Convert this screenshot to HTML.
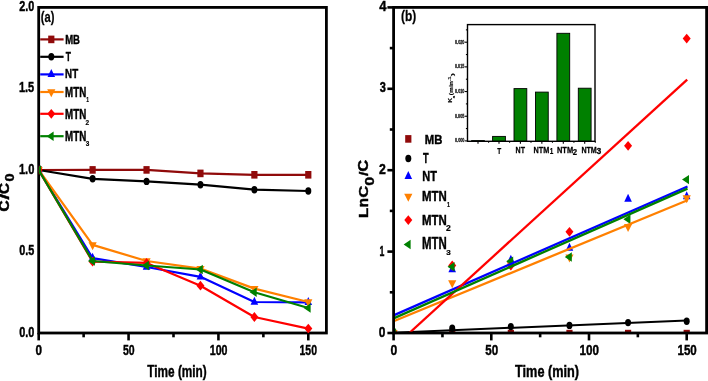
<!DOCTYPE html>
<html><head><meta charset="utf-8"><style>
html,body{margin:0;padding:0;background:#fff;width:708px;height:381px;overflow:hidden;}
svg{display:block;will-change:transform;}
text{font-family:"Liberation Sans", sans-serif;}
</style></head><body>
<svg width="708" height="381" viewBox="0 0 708 381">
<rect width="708" height="381" fill="#fff"/>
<rect x="38.70" y="7.40" width="287.70" height="325.60" fill="none" stroke="#000" stroke-width="2.8"/>
<defs><clipPath id="ca"><rect x="38.9" y="7.4" width="287.5" height="325.6"/></clipPath></defs><g clip-path="url(#ca)">
<polyline points="38.70,170.00 92.62,169.90 146.54,169.90 200.46,173.40 254.38,174.80 308.30,174.80" fill="none" stroke="#900a0a" stroke-width="2.2" stroke-linejoin="round"/>
<rect x="35.60" y="166.20" width="6.20" height="7.60" fill="#900a0a"/>
<rect x="89.52" y="166.10" width="6.20" height="7.60" fill="#900a0a"/>
<rect x="143.44" y="166.10" width="6.20" height="7.60" fill="#900a0a"/>
<rect x="197.36" y="169.60" width="6.20" height="7.60" fill="#900a0a"/>
<rect x="251.28" y="171.00" width="6.20" height="7.60" fill="#900a0a"/>
<rect x="305.20" y="171.00" width="6.20" height="7.60" fill="#900a0a"/>
<polyline points="38.70,170.00 92.62,178.80 146.54,181.40 200.46,184.70 254.38,189.70 308.30,191.00" fill="none" stroke="#000" stroke-width="2.2" stroke-linejoin="round"/>
<ellipse cx="38.70" cy="170.00" rx="3.00" ry="3.70" fill="#000"/>
<ellipse cx="92.62" cy="178.80" rx="3.00" ry="3.70" fill="#000"/>
<ellipse cx="146.54" cy="181.40" rx="3.00" ry="3.70" fill="#000"/>
<ellipse cx="200.46" cy="184.70" rx="3.00" ry="3.70" fill="#000"/>
<ellipse cx="254.38" cy="189.70" rx="3.00" ry="3.70" fill="#000"/>
<ellipse cx="308.30" cy="191.00" rx="3.00" ry="3.70" fill="#000"/>
<polyline points="38.70,170.00 92.62,258.10 146.54,267.00 200.46,276.80 254.38,302.00 308.30,302.40" fill="none" stroke="#0000ff" stroke-width="2.2" stroke-linejoin="round"/>
<polygon points="38.70,164.67 42.50,172.67 34.90,172.67" fill="#0000ff"/>
<polygon points="92.62,252.77 96.42,260.77 88.82,260.77" fill="#0000ff"/>
<polygon points="146.54,261.67 150.34,269.67 142.74,269.67" fill="#0000ff"/>
<polygon points="200.46,271.47 204.26,279.47 196.66,279.47" fill="#0000ff"/>
<polygon points="254.38,296.67 258.18,304.67 250.58,304.67" fill="#0000ff"/>
<polygon points="308.30,297.07 312.10,305.07 304.50,305.07" fill="#0000ff"/>
<polyline points="38.70,170.00 92.62,244.90 146.54,261.00 200.46,268.60 254.38,288.60 308.30,302.00" fill="none" stroke="#ff8000" stroke-width="2.2" stroke-linejoin="round"/>
<polygon points="34.60,167.33 42.80,167.33 38.70,175.33" fill="#ff8000"/>
<polygon points="88.52,242.23 96.72,242.23 92.62,250.23" fill="#ff8000"/>
<polygon points="142.44,258.33 150.64,258.33 146.54,266.33" fill="#ff8000"/>
<polygon points="196.36,265.93 204.56,265.93 200.46,273.93" fill="#ff8000"/>
<polygon points="250.28,285.93 258.48,285.93 254.38,293.93" fill="#ff8000"/>
<polygon points="304.20,299.33 312.40,299.33 308.30,307.33" fill="#ff8000"/>
<polyline points="38.70,170.00 92.62,261.70 146.54,262.90 200.46,285.70 254.38,317.00 308.30,328.60" fill="none" stroke="#ff0000" stroke-width="2.2" stroke-linejoin="round"/>
<polygon points="38.70,165.10 42.70,170.00 38.70,174.90 34.70,170.00" fill="#ff0000"/>
<polygon points="92.62,256.80 96.62,261.70 92.62,266.60 88.62,261.70" fill="#ff0000"/>
<polygon points="146.54,258.00 150.54,262.90 146.54,267.80 142.54,262.90" fill="#ff0000"/>
<polygon points="200.46,280.80 204.46,285.70 200.46,290.60 196.46,285.70" fill="#ff0000"/>
<polygon points="254.38,312.10 258.38,317.00 254.38,321.90 250.38,317.00" fill="#ff0000"/>
<polygon points="308.30,323.70 312.30,328.60 308.30,333.50 304.30,328.60" fill="#ff0000"/>
<polyline points="38.70,170.00 92.62,261.00 146.54,265.50 200.46,269.50 254.38,292.30 308.30,308.00" fill="none" stroke="#008000" stroke-width="2.2" stroke-linejoin="round"/>
<polygon points="34.03,170.00 41.03,165.30 41.03,174.70" fill="#008000"/>
<polygon points="87.95,261.00 94.95,256.30 94.95,265.70" fill="#008000"/>
<polygon points="141.87,265.50 148.87,260.80 148.87,270.20" fill="#008000"/>
<polygon points="195.79,269.50 202.79,264.80 202.79,274.20" fill="#008000"/>
<polygon points="249.71,292.30 256.71,287.60 256.71,297.00" fill="#008000"/>
<polygon points="303.63,308.00 310.63,303.30 310.63,312.70" fill="#008000"/>
</g>
<line x1="38.70" y1="333.00" x2="38.70" y2="340.40" stroke="#000" stroke-width="2.6" stroke-linecap="butt"/>
<line x1="83.63" y1="333.00" x2="83.63" y2="337.30" stroke="#000" stroke-width="2.6" stroke-linecap="butt"/>
<line x1="128.57" y1="333.00" x2="128.57" y2="340.40" stroke="#000" stroke-width="2.6" stroke-linecap="butt"/>
<line x1="173.50" y1="333.00" x2="173.50" y2="337.30" stroke="#000" stroke-width="2.6" stroke-linecap="butt"/>
<line x1="218.43" y1="333.00" x2="218.43" y2="340.40" stroke="#000" stroke-width="2.6" stroke-linecap="butt"/>
<line x1="263.37" y1="333.00" x2="263.37" y2="337.30" stroke="#000" stroke-width="2.6" stroke-linecap="butt"/>
<line x1="308.30" y1="333.00" x2="308.30" y2="340.40" stroke="#000" stroke-width="2.6" stroke-linecap="butt"/>
<text transform="translate(19.16,336.65) scale(0.7312,1.0000)" font-size="14.93" font-weight="bold" fill="#000" stroke="#000" stroke-width="0.45">0.0</text>
<text transform="translate(19.17,255.15) scale(0.7256,1.0000)" font-size="14.93" font-weight="bold" fill="#000" stroke="#000" stroke-width="0.45">0.5</text>
<text transform="translate(18.93,173.65) scale(0.7425,1.0000)" font-size="14.93" font-weight="bold" fill="#000" stroke="#000" stroke-width="0.45">1.0</text>
<text transform="translate(18.94,92.15) scale(0.7264,1.0000)" font-size="15.14" font-weight="bold" fill="#000" stroke="#000" stroke-width="0.45">1.5</text>
<text transform="translate(19.28,10.85) scale(0.7256,1.0000)" font-size="14.93" font-weight="bold" fill="#000" stroke="#000" stroke-width="0.45">2.0</text>
<text transform="translate(35.53,355.15) scale(0.7622,1.0000)" font-size="15.35" font-weight="bold" fill="#000" stroke="#000" stroke-width="0.45">0</text>
<text transform="translate(122.99,355.15) scale(0.6827,1.0000)" font-size="15.35" font-weight="bold" fill="#000" stroke="#000" stroke-width="0.45">50</text>
<text transform="translate(209.76,355.15) scale(0.6929,1.0000)" font-size="15.35" font-weight="bold" fill="#000" stroke="#000" stroke-width="0.45">100</text>
<text transform="translate(299.57,355.15) scale(0.6804,1.0000)" font-size="15.35" font-weight="bold" fill="#000" stroke="#000" stroke-width="0.45">150</text>
<text transform="translate(147.28,377.00) scale(0.6963,1.0000)" font-size="16.96" font-weight="bold" fill="#000" stroke="#000" stroke-width="0.45">Time (min)</text>
<text transform="translate(8.76,211.83) scale(0.9202,1.0564) rotate(-90)" font-size="15.00" font-weight="bold" fill="#000" stroke="#000" stroke-width="0.45">C</text>
<text transform="translate(8.77,199.81) scale(0.8468,1.4103) rotate(-90)" font-size="15.00" font-weight="bold" fill="#000" stroke="#000" stroke-width="0.45">/</text>
<text transform="translate(8.76,194.13) scale(0.9202,1.0462) rotate(-90)" font-size="15.00" font-weight="bold" fill="#000" stroke="#000" stroke-width="0.45">C</text>
<text transform="translate(14.18,181.48) scale(0.7981,0.9645) rotate(-90)" font-size="15.00" font-weight="bold" fill="#000" stroke="#000" stroke-width="0.45">0</text>
<text transform="translate(40.74,21.55) scale(0.7440,1.0000)" font-size="15.00" font-weight="bold" fill="#000" stroke="#000" stroke-width="0.25">(a)</text>
<line x1="40.20" y1="39.40" x2="63.60" y2="39.40" stroke="#900a0a" stroke-width="2.2" stroke-linecap="butt"/>
<rect x="48.20" y="35.60" width="6.20" height="7.60" fill="#900a0a"/>
<text transform="translate(65.13,44.40) scale(0.6984,1.0000)" font-size="13.62" font-weight="bold" fill="#000" stroke="#000" stroke-width="0.45">MB</text>
<line x1="40.20" y1="56.80" x2="63.60" y2="56.80" stroke="#000" stroke-width="2.2" stroke-linecap="butt"/>
<ellipse cx="51.30" cy="56.80" rx="3.00" ry="3.70" fill="#000"/>
<text transform="translate(65.72,61.00) scale(0.6221,1.0000)" font-size="13.62" font-weight="bold" fill="#000" stroke="#000" stroke-width="0.45">T</text>
<line x1="40.20" y1="74.40" x2="63.60" y2="74.40" stroke="#0000ff" stroke-width="2.2" stroke-linecap="butt"/>
<polygon points="51.30,69.07 55.10,77.07 47.50,77.07" fill="#0000ff"/>
<text transform="translate(65.12,78.30) scale(0.7164,1.0000)" font-size="13.62" font-weight="bold" fill="#000" stroke="#000" stroke-width="0.45">NT</text>
<line x1="40.20" y1="92.00" x2="63.60" y2="92.00" stroke="#ff8000" stroke-width="2.2" stroke-linecap="butt"/>
<polygon points="47.20,89.33 55.40,89.33 51.30,97.33" fill="#ff8000"/>
<text transform="translate(65.12,96.70) scale(0.6867,1.0000)" font-size="14.20" font-weight="bold" fill="#000" stroke="#000" stroke-width="0.45">MTN</text>
<text transform="translate(86.31,102.20) scale(0.6139,1.0000)" font-size="7.97" font-weight="bold" fill="#000" stroke="#000" stroke-width="0.2">1</text>
<line x1="40.20" y1="113.80" x2="63.60" y2="113.80" stroke="#ff0000" stroke-width="2.2" stroke-linecap="butt"/>
<polygon points="51.30,108.90 55.30,113.80 51.30,118.70 47.30,113.80" fill="#ff0000"/>
<text transform="translate(65.12,119.20) scale(0.7084,1.0000)" font-size="13.77" font-weight="bold" fill="#000" stroke="#000" stroke-width="0.45">MTN</text>
<text transform="translate(85.60,124.50) scale(0.9726,1.0000)" font-size="6.71" font-weight="bold" fill="#000" stroke="#000" stroke-width="0.2">2</text>
<line x1="40.20" y1="136.20" x2="63.60" y2="136.20" stroke="#008000" stroke-width="2.2" stroke-linecap="butt"/>
<polygon points="46.63,136.20 53.63,131.50 53.63,140.90" fill="#008000"/>
<text transform="translate(65.12,141.10) scale(0.7084,1.0000)" font-size="13.77" font-weight="bold" fill="#000" stroke="#000" stroke-width="0.45">MTN</text>
<text transform="translate(85.67,146.33) scale(0.8574,1.0000)" font-size="7.46" font-weight="bold" fill="#000" stroke="#000" stroke-width="0.2">3</text>
<defs><clipPath id="cb"><rect x="393.6" y="7.4" width="313" height="325.6"/></clipPath></defs>
<g clip-path="url(#cb)">
<rect x="390.50" y="329.80" width="6.20" height="7.60" fill="#900a0a"/>
<rect x="449.12" y="329.80" width="6.20" height="7.60" fill="#900a0a"/>
<rect x="507.74" y="329.80" width="6.20" height="7.60" fill="#900a0a"/>
<rect x="566.36" y="329.80" width="6.20" height="7.60" fill="#900a0a"/>
<rect x="624.98" y="329.80" width="6.20" height="7.60" fill="#900a0a"/>
<rect x="683.60" y="329.80" width="6.20" height="7.60" fill="#900a0a"/>
<ellipse cx="393.60" cy="333.00" rx="3.00" ry="3.70" fill="#000"/>
<ellipse cx="452.22" cy="328.20" rx="3.00" ry="3.70" fill="#000"/>
<ellipse cx="510.84" cy="326.60" rx="3.00" ry="3.70" fill="#000"/>
<ellipse cx="569.46" cy="325.40" rx="3.00" ry="3.70" fill="#000"/>
<ellipse cx="628.08" cy="322.60" rx="3.00" ry="3.70" fill="#000"/>
<ellipse cx="686.70" cy="321.20" rx="3.00" ry="3.70" fill="#000"/>
<polygon points="393.60,327.67 397.40,335.67 389.80,335.67" fill="#0000ff"/>
<polygon points="452.22,264.37 456.02,272.37 448.42,272.37" fill="#0000ff"/>
<polygon points="510.84,254.67 514.64,262.67 507.04,262.67" fill="#0000ff"/>
<polygon points="569.46,242.77 573.26,250.77 565.66,250.77" fill="#0000ff"/>
<polygon points="628.08,193.87 631.88,201.87 624.28,201.87" fill="#0000ff"/>
<polygon points="686.70,191.37 690.50,199.37 682.90,199.37" fill="#0000ff"/>
<polygon points="389.50,330.33 397.70,330.33 393.60,338.33" fill="#ff8000"/>
<polygon points="448.12,280.33 456.32,280.33 452.22,288.33" fill="#ff8000"/>
<polygon points="506.74,262.33 514.94,262.33 510.84,270.33" fill="#ff8000"/>
<polygon points="565.36,254.53 573.56,254.53 569.46,262.53" fill="#ff8000"/>
<polygon points="623.98,223.93 632.18,223.93 628.08,231.93" fill="#ff8000"/>
<polygon points="682.60,195.33 690.80,195.33 686.70,203.33" fill="#ff8000"/>
<polygon points="393.60,328.10 397.60,333.00 393.60,337.90 389.60,333.00" fill="#ff0000"/>
<polygon points="452.22,260.60 456.22,265.50 452.22,270.40 448.22,265.50" fill="#ff0000"/>
<polygon points="510.84,260.60 514.84,265.50 510.84,270.40 506.84,265.50" fill="#ff0000"/>
<polygon points="569.46,226.90 573.46,231.80 569.46,236.70 565.46,231.80" fill="#ff0000"/>
<polygon points="628.08,140.90 632.08,145.80 628.08,150.70 624.08,145.80" fill="#ff0000"/>
<polygon points="686.70,33.70 690.70,38.60 686.70,43.50 682.70,38.60" fill="#ff0000"/>
<polygon points="388.93,333.00 395.93,328.30 395.93,337.70" fill="#008000"/>
<polygon points="447.55,266.70 454.55,262.00 454.55,271.40" fill="#008000"/>
<polygon points="506.17,261.30 513.17,256.60 513.17,266.00" fill="#008000"/>
<polygon points="564.79,257.00 571.79,252.30 571.79,261.70" fill="#008000"/>
<polygon points="623.41,219.30 630.41,214.60 630.41,224.00" fill="#008000"/>
<polygon points="682.03,179.60 689.03,174.90 689.03,184.30" fill="#008000"/>
<line x1="393.60" y1="332.70" x2="686.70" y2="320.40" stroke="#000" stroke-width="2.0" stroke-linecap="butt"/>
<line x1="393.60" y1="315.40" x2="687.50" y2="186.50" stroke="#0000ff" stroke-width="2.3" stroke-linecap="butt"/>
<line x1="393.60" y1="321.30" x2="687.50" y2="200.20" stroke="#ff8000" stroke-width="2.3" stroke-linecap="butt"/>
<line x1="409.30" y1="333.00" x2="687.20" y2="79.60" stroke="#ff0000" stroke-width="2.3" stroke-linecap="butt"/>
<line x1="393.60" y1="318.40" x2="687.50" y2="188.60" stroke="#008000" stroke-width="2.3" stroke-linecap="butt"/>
</g>
<rect x="393.60" y="7.40" width="313.00" height="325.60" fill="none" stroke="#000" stroke-width="2.8"/>
<line x1="393.60" y1="333.00" x2="387.40" y2="333.00" stroke="#000" stroke-width="2.6" stroke-linecap="butt"/>
<line x1="393.60" y1="292.30" x2="389.80" y2="292.30" stroke="#000" stroke-width="2.6" stroke-linecap="butt"/>
<line x1="393.60" y1="251.60" x2="387.40" y2="251.60" stroke="#000" stroke-width="2.6" stroke-linecap="butt"/>
<line x1="393.60" y1="210.90" x2="389.80" y2="210.90" stroke="#000" stroke-width="2.6" stroke-linecap="butt"/>
<line x1="393.60" y1="170.20" x2="387.40" y2="170.20" stroke="#000" stroke-width="2.6" stroke-linecap="butt"/>
<line x1="393.60" y1="129.50" x2="389.80" y2="129.50" stroke="#000" stroke-width="2.6" stroke-linecap="butt"/>
<line x1="393.60" y1="88.80" x2="387.40" y2="88.80" stroke="#000" stroke-width="2.6" stroke-linecap="butt"/>
<line x1="393.60" y1="48.10" x2="389.80" y2="48.10" stroke="#000" stroke-width="2.6" stroke-linecap="butt"/>
<line x1="393.60" y1="7.40" x2="387.40" y2="7.40" stroke="#000" stroke-width="2.6" stroke-linecap="butt"/>
<line x1="393.60" y1="333.00" x2="393.60" y2="340.40" stroke="#000" stroke-width="2.6" stroke-linecap="butt"/>
<line x1="442.45" y1="333.00" x2="442.45" y2="337.30" stroke="#000" stroke-width="2.6" stroke-linecap="butt"/>
<line x1="491.30" y1="333.00" x2="491.30" y2="340.40" stroke="#000" stroke-width="2.6" stroke-linecap="butt"/>
<line x1="540.15" y1="333.00" x2="540.15" y2="337.30" stroke="#000" stroke-width="2.6" stroke-linecap="butt"/>
<line x1="589.00" y1="333.00" x2="589.00" y2="340.40" stroke="#000" stroke-width="2.6" stroke-linecap="butt"/>
<line x1="637.85" y1="333.00" x2="637.85" y2="337.30" stroke="#000" stroke-width="2.6" stroke-linecap="butt"/>
<line x1="686.70" y1="333.00" x2="686.70" y2="340.40" stroke="#000" stroke-width="2.6" stroke-linecap="butt"/>
<text transform="translate(378.82,336.85) scale(0.7981,1.0000)" font-size="14.93" font-weight="bold" fill="#000" stroke="#000" stroke-width="0.45">0</text>
<text transform="translate(379.38,255.50) scale(0.5678,1.0000)" font-size="15.36" font-weight="bold" fill="#000" stroke="#000" stroke-width="0.45">1</text>
<text transform="translate(379.03,173.70) scale(0.8086,1.0000)" font-size="15.14" font-weight="bold" fill="#000" stroke="#000" stroke-width="0.45">2</text>
<text transform="translate(379.68,92.45) scale(0.7368,1.0000)" font-size="14.93" font-weight="bold" fill="#000" stroke="#000" stroke-width="0.45">3</text>
<text transform="translate(379.14,11.00) scale(0.8475,1.0000)" font-size="15.36" font-weight="bold" fill="#000" stroke="#000" stroke-width="0.45">4</text>
<text transform="translate(390.51,355.15) scale(0.7900,1.0000)" font-size="15.35" font-weight="bold" fill="#000" stroke="#000" stroke-width="0.45">0</text>
<text transform="translate(485.35,355.15) scale(0.7579,1.0000)" font-size="15.35" font-weight="bold" fill="#000" stroke="#000" stroke-width="0.45">50</text>
<text transform="translate(579.60,355.15) scale(0.7592,1.0000)" font-size="15.35" font-weight="bold" fill="#000" stroke="#000" stroke-width="0.45">100</text>
<text transform="translate(677.51,355.15) scale(0.7509,1.0000)" font-size="15.35" font-weight="bold" fill="#000" stroke="#000" stroke-width="0.45">150</text>
<text transform="translate(515.07,376.80) scale(0.7693,1.0000)" font-size="16.52" font-weight="bold" fill="#000" stroke="#000" stroke-width="0.45">Time (min)</text>
<text transform="translate(367.80,217.97) scale(0.8986,1.1111) rotate(-90)" font-size="15.00" font-weight="bold" fill="#000" stroke="#000" stroke-width="0.45">L</text>
<text transform="translate(367.80,207.15) scale(0.9877,1.0000) rotate(-90)" font-size="15.00" font-weight="bold" fill="#000" stroke="#000" stroke-width="0.45">n</text>
<text transform="translate(367.67,197.86) scale(0.8920,1.1077) rotate(-90)" font-size="15.00" font-weight="bold" fill="#000" stroke="#000" stroke-width="0.45">C</text>
<text transform="translate(373.67,185.65) scale(0.8545,1.0780) rotate(-90)" font-size="15.00" font-weight="bold" fill="#000" stroke="#000" stroke-width="0.45">0</text>
<text transform="translate(367.67,175.96) scale(0.8829,1.0769) rotate(-90)" font-size="15.00" font-weight="bold" fill="#000" stroke="#000" stroke-width="0.45">/</text>
<text transform="translate(367.96,171.86) scale(0.9202,1.0974) rotate(-90)" font-size="15.00" font-weight="bold" fill="#000" stroke="#000" stroke-width="0.45">C</text>
<text transform="translate(400.90,20.56) scale(0.8259,1.0000)" font-size="14.47" font-weight="bold" fill="#000" stroke="#000" stroke-width="0.25">(b)</text>
<rect x="405.20" y="135.10" width="6.20" height="7.60" fill="#900a0a"/>
<text transform="translate(424.71,143.70) scale(0.8309,1.0000)" font-size="13.62" font-weight="bold" fill="#000" stroke="#000" stroke-width="0.45">MB</text>
<ellipse cx="408.30" cy="158.50" rx="3.00" ry="3.70" fill="#000"/>
<text transform="translate(422.91,162.50) scale(0.6253,1.0000)" font-size="14.64" font-weight="bold" fill="#000" stroke="#000" stroke-width="0.45">T</text>
<polygon points="408.30,171.07 412.10,179.07 404.50,179.07" fill="#0000ff"/>
<text transform="translate(422.23,181.20) scale(0.7515,1.0000)" font-size="14.64" font-weight="bold" fill="#000" stroke="#000" stroke-width="0.45">NT</text>
<polygon points="404.20,193.63 412.40,193.63 408.30,201.63" fill="#ff8000"/>
<text transform="translate(421.90,201.10) scale(0.7582,1.0000)" font-size="15.07" font-weight="bold" fill="#000" stroke="#000" stroke-width="0.45">MTN</text>
<text transform="translate(446.88,206.80) scale(0.7646,1.0000)" font-size="6.96" font-weight="bold" fill="#000" stroke="#000" stroke-width="0.2">1</text>
<polygon points="408.30,215.20 412.30,220.10 408.30,225.00 404.30,220.10" fill="#ff0000"/>
<text transform="translate(421.90,224.70) scale(0.7582,1.0000)" font-size="15.07" font-weight="bold" fill="#000" stroke="#000" stroke-width="0.45">MTN</text>
<text transform="translate(446.04,231.30) scale(1.0526,1.0000)" font-size="8.14" font-weight="bold" fill="#000" stroke="#000" stroke-width="0.2">2</text>
<polygon points="403.63,244.50 410.63,239.80 410.63,249.20" fill="#008000"/>
<text transform="translate(421.90,249.20) scale(0.6979,1.0000)" font-size="16.38" font-weight="bold" fill="#000" stroke="#000" stroke-width="0.45">MTN</text>
<text transform="translate(446.34,254.83) scale(1.2085,1.0000)" font-size="6.62" font-weight="bold" fill="#000" stroke="#000" stroke-width="0.2">3</text>
<rect x="467.5" y="24.6" width="127.50" height="116.70" fill="#fff" stroke="none"/>
<rect x="471.60" y="140.60" width="12.8" height="0.70" fill="#008000" stroke="#000" stroke-width="0.9"/>
<rect x="492.60" y="136.40" width="12.8" height="4.90" fill="#008000" stroke="#000" stroke-width="0.9"/>
<rect x="514.00" y="88.60" width="12.8" height="52.70" fill="#008000" stroke="#000" stroke-width="0.9"/>
<rect x="535.45" y="92.10" width="12.8" height="49.20" fill="#008000" stroke="#000" stroke-width="0.9"/>
<rect x="556.90" y="33.30" width="12.8" height="108.00" fill="#008000" stroke="#000" stroke-width="0.9"/>
<rect x="578.30" y="88.20" width="12.8" height="53.10" fill="#008000" stroke="#000" stroke-width="0.9"/>
<rect x="467.5" y="24.6" width="127.50" height="116.70" fill="none" stroke="#000" stroke-width="1.4"/>
<line x1="467.50" y1="140.90" x2="464.70" y2="140.90" stroke="#000" stroke-width="1.1" stroke-linecap="butt"/>
<line x1="467.50" y1="128.56" x2="465.90" y2="128.56" stroke="#000" stroke-width="1.1" stroke-linecap="butt"/>
<line x1="467.50" y1="116.23" x2="464.70" y2="116.23" stroke="#000" stroke-width="1.1" stroke-linecap="butt"/>
<line x1="467.50" y1="103.89" x2="465.90" y2="103.89" stroke="#000" stroke-width="1.1" stroke-linecap="butt"/>
<line x1="467.50" y1="91.55" x2="464.70" y2="91.55" stroke="#000" stroke-width="1.1" stroke-linecap="butt"/>
<line x1="467.50" y1="79.21" x2="465.90" y2="79.21" stroke="#000" stroke-width="1.1" stroke-linecap="butt"/>
<line x1="467.50" y1="66.88" x2="464.70" y2="66.88" stroke="#000" stroke-width="1.1" stroke-linecap="butt"/>
<line x1="467.50" y1="54.54" x2="465.90" y2="54.54" stroke="#000" stroke-width="1.1" stroke-linecap="butt"/>
<line x1="467.50" y1="42.20" x2="464.70" y2="42.20" stroke="#000" stroke-width="1.1" stroke-linecap="butt"/>
<line x1="467.50" y1="29.86" x2="465.90" y2="29.86" stroke="#000" stroke-width="1.1" stroke-linecap="butt"/>
<line x1="478.00" y1="141.30" x2="478.00" y2="143.70" stroke="#000" stroke-width="1.1" stroke-linecap="butt"/>
<line x1="488.60" y1="141.30" x2="488.60" y2="142.70" stroke="#000" stroke-width="1.1" stroke-linecap="butt"/>
<line x1="499.00" y1="141.30" x2="499.00" y2="143.70" stroke="#000" stroke-width="1.1" stroke-linecap="butt"/>
<line x1="509.60" y1="141.30" x2="509.60" y2="142.70" stroke="#000" stroke-width="1.1" stroke-linecap="butt"/>
<line x1="520.40" y1="141.30" x2="520.40" y2="143.70" stroke="#000" stroke-width="1.1" stroke-linecap="butt"/>
<line x1="531.00" y1="141.30" x2="531.00" y2="142.70" stroke="#000" stroke-width="1.1" stroke-linecap="butt"/>
<line x1="541.85" y1="141.30" x2="541.85" y2="143.70" stroke="#000" stroke-width="1.1" stroke-linecap="butt"/>
<line x1="552.45" y1="141.30" x2="552.45" y2="142.70" stroke="#000" stroke-width="1.1" stroke-linecap="butt"/>
<line x1="563.30" y1="141.30" x2="563.30" y2="143.70" stroke="#000" stroke-width="1.1" stroke-linecap="butt"/>
<line x1="573.90" y1="141.30" x2="573.90" y2="142.70" stroke="#000" stroke-width="1.1" stroke-linecap="butt"/>
<line x1="584.70" y1="141.30" x2="584.70" y2="143.70" stroke="#000" stroke-width="1.1" stroke-linecap="butt"/>
<line x1="595.30" y1="141.30" x2="595.30" y2="142.70" stroke="#000" stroke-width="1.1" stroke-linecap="butt"/>
<text transform="translate(455.05,142.35) scale(0.8252,1.0000)" font-size="4.51" font-weight="bold" fill="#111" stroke="#111" stroke-width="0.25">0.000</text>
<text transform="translate(455.05,117.68) scale(0.8184,1.0000)" font-size="4.51" font-weight="bold" fill="#111" stroke="#111" stroke-width="0.25">0.005</text>
<text transform="translate(455.05,93.00) scale(0.8252,1.0000)" font-size="4.51" font-weight="bold" fill="#111" stroke="#111" stroke-width="0.25">0.010</text>
<text transform="translate(455.05,68.33) scale(0.8184,1.0000)" font-size="4.51" font-weight="bold" fill="#111" stroke="#111" stroke-width="0.25">0.015</text>
<text transform="translate(455.05,43.65) scale(0.8252,1.0000)" font-size="4.51" font-weight="bold" fill="#111" stroke="#111" stroke-width="0.25">0.020</text>
<text transform="translate(497.14,154.20) scale(0.7054,1.0000)" font-size="9.13" font-weight="bold" fill="#000" stroke="#000" stroke-width="0.25">T</text>
<text transform="translate(515.61,152.50) scale(0.7710,1.0000)" font-size="9.13" font-weight="bold" fill="#000" stroke="#000" stroke-width="0.25">NT</text>
<text transform="translate(533.59,152.50) scale(0.7985,1.0000)" font-size="9.13" font-weight="bold" fill="#000" stroke="#000" stroke-width="0.25">NTM</text>
<text transform="translate(549.72,154.20) scale(0.6477,1.0000)" font-size="9.86" font-weight="bold" fill="#000" stroke="#000" stroke-width="0.25">1</text>
<text transform="translate(556.98,152.50) scale(0.8699,1.0000)" font-size="8.55" font-weight="bold" fill="#000" stroke="#000" stroke-width="0.25">NTM</text>
<text transform="translate(572.77,154.50) scale(0.8225,1.0000)" font-size="9.43" font-weight="bold" fill="#000" stroke="#000" stroke-width="0.25">2</text>
<text transform="translate(581.40,152.50) scale(0.8296,1.0000)" font-size="8.55" font-weight="bold" fill="#000" stroke="#000" stroke-width="0.25">NTM</text>
<text transform="translate(596.53,154.11) scale(0.9692,1.0000)" font-size="8.87" font-weight="bold" fill="#000" stroke="#000" stroke-width="0.25">3</text>
<text transform="translate(452.30,102.87) scale(0.7488,1.1198) rotate(-90)" font-size="6.00" font-weight="bold" fill="#000" stroke="#000" stroke-width="0.15">K</text>
<text transform="translate(454.66,98.24) scale(0.6061,0.7547) rotate(-90)" font-size="6.00" font-weight="bold" fill="#000" stroke="#000" stroke-width="0.15">a</text>
<text transform="translate(452.68,95.23) scale(0.8865,1.1167) rotate(-90)" font-size="6.00" font-weight="bold" fill="#000" stroke="#000" stroke-width="0.15">(min</text>
<text transform="translate(451.00,81.22) scale(0.5797,0.9146) rotate(-90)" font-size="6.00" font-weight="bold" fill="#000" stroke="#000" stroke-width="0.15">-1</text>
<text transform="translate(453.91,76.20) scale(0.7092,1.6667) rotate(-90)" font-size="6.00" font-weight="bold" fill="#000" stroke="#000" stroke-width="0.15">)</text>
</svg></body></html>
